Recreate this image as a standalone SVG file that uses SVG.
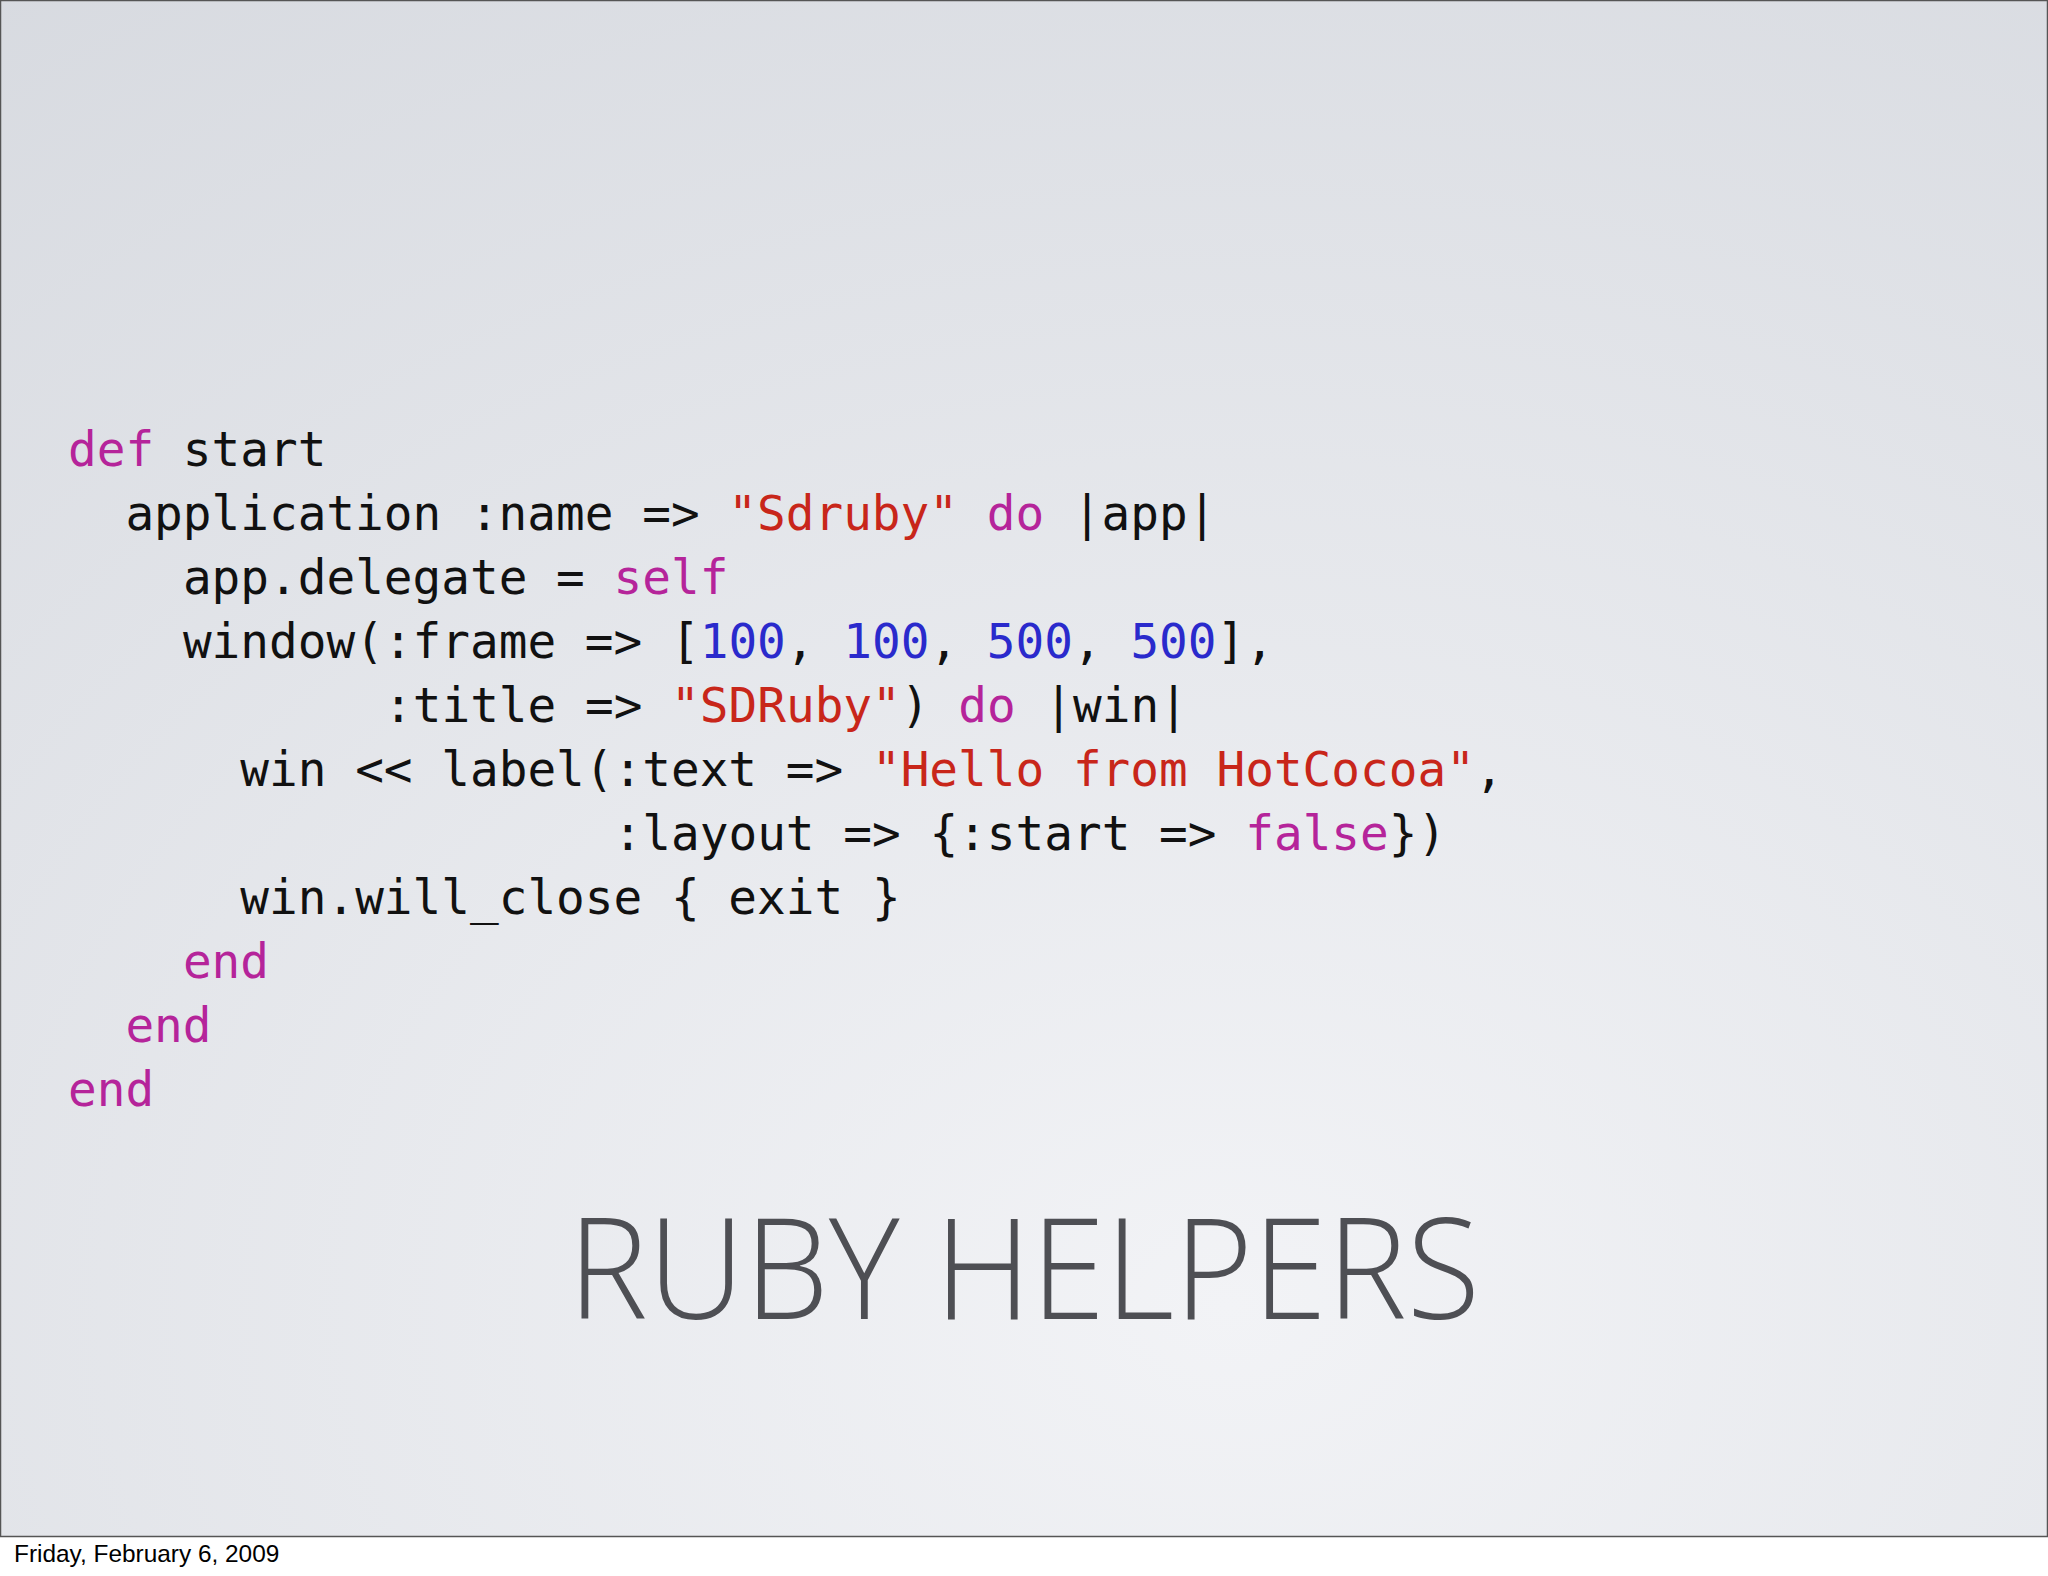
<svg xmlns="http://www.w3.org/2000/svg" width="2048" height="1576" viewBox="0 0 2048 1576">
<defs>
<radialGradient id="bg" cx="0.6" cy="0.85" r="1.1">
<stop offset="0" stop-color="#f2f3f6"/>
<stop offset="1" stop-color="#d6d9df"/>
</radialGradient>
</defs>
<style>
.c{font-family:"DejaVu Sans Mono","Liberation Mono",monospace;font-size:47.7px;fill:#111;white-space:pre}
.k{fill:#b5249a}.s{fill:#c8261a}.n{fill:#2a2acc}
.t{font-family:"Open Sans","Liberation Sans",sans-serif;font-weight:300;font-size:140px;fill:#4e4f54}
.f{font-family:"Liberation Sans",Arial,sans-serif;font-size:24.4px;fill:#000}
</style>
<rect width="2048" height="1576" fill="#fff"/>
<rect x="0.5" y="0.5" width="2047" height="1536" fill="url(#bg)" stroke="#555" stroke-width="1.5"/>
<g id="code" class="c">
<text x="68" y="466"><tspan class="k">def</tspan> start</text>
<text x="125.4" y="530">application :name =&gt; <tspan class="s">"Sdruby"</tspan> <tspan class="k">do</tspan> |app|</text>
<text x="182.9" y="594">app.delegate = <tspan class="k">self</tspan></text>
<text x="182.9" y="658">window(:frame =&gt; [<tspan class="n">100</tspan>, <tspan class="n">100</tspan>, <tspan class="n">500</tspan>, <tspan class="n">500</tspan>],</text>
<text x="384" y="722">:title =&gt; <tspan class="s">"SDRuby"</tspan>) <tspan class="k">do</tspan> |win|</text>
<text x="240.3" y="786">win &lt;&lt; label(:text =&gt; <tspan class="s">"Hello from HotCocoa"</tspan>,</text>
<text x="613.6" y="850">:layout =&gt; {:start =&gt; <tspan class="k">false</tspan>})</text>
<text x="240.3" y="914">win.will_close { exit }</text>
<text x="182.9" y="978" class="k">end</text>
<text x="125.4" y="1042" class="k">end</text>
<text x="68" y="1106" class="k">end</text>
</g>
<g id="title"><text class="t" x="568" y="1319" textLength="912" lengthAdjust="spacingAndGlyphs">RUBY HELPERS</text></g>
<g id="footer"><text class="f" x="14" y="1562">Friday, February 6, 2009</text></g>
</svg>
